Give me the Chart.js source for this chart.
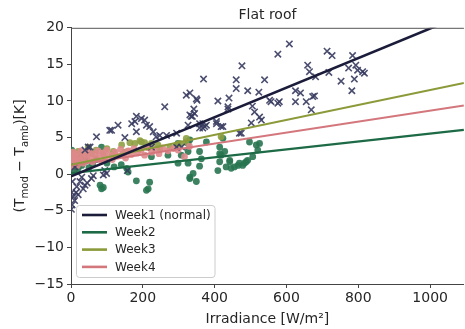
<!DOCTYPE html>
<html><head><meta charset="utf-8">
<script src="https://cdn.jsdelivr.net/npm/chart.js@4.4.0/dist/chart.umd.min.js"></script>
<style>html,body{margin:0;padding:0;background:#fff;overflow:hidden;width:465px;height:329px}canvas{display:block}</style>
</head><body>
<canvas id="c" width="470" height="329"></canvas>
<script>
const titleText = "Flat roof";
const xTitle = "Irradiance [W/m\u00b2]";
const seriesNames = ["Week1 (normal)", "Week2", "Week3", "Week4"];
const yTicks = [20, 15, 10, 5, 0, -5, -10, -15];
const xTicks = [0, 200, 400, 600, 800, 1000];

// fitted lines: value at x=fitX[0] and x=fitX[1]
const fitX = [0, 1094];
const week1Fit = [-0.3, 21.8];
const week2Fit = [0.15, 6.06];
const week3Fit = [1.3, 12.46];
const week4Fit = [1.2, 9.4];

const week1Pts = [[1,-4.8],[3,-4.2],[6,-3.1],[10,-3.6],[14,-2.5],[2,-2.5],[4,-1.0],[16,-1.7],[20,-2.8],[25,-1.0],[30,-0.4],[34,-2.0],[39,-1.5],[45,-1.2],[57,-0.6],[62,-0.2],[11,1.0],[90,-0.1],[94,0.5],[99,0.1],[157,0.5],
[39,3.3],[48,3.7],[53,3.7],[71,5.1],[108,6.0],[113,6.0],[131,6.7],[150,5.0],[169,6.9],[178,7.2],[182,5.8],[182,7.9],[196,7.6],[205,7.4],[210,6.7],[219,6.5],[224,3.7],[229,5.8],[237,5.1],[247,5.3],[261,9.2],[266,5.3],[294,5.6],[294,3.7],[308,3.7],[326,6.7],
[321,10.8],[331,11.1],[331,8.1],[335,7.9],[338,7.9],[342,8.9],[344,8.3],[349,10.3],[351,10.1],[358,6.9],[358,6.3],[367,6.3],[367,6.9],[369,13.0],[372,6.5],[377,6.7],[405,6.9],[405,7.2],[409,10.0],[418,6.5],[423,6.5],[437,8.9],[437,9.2],[440,10.4],[460,12.9],[460,11.7],[469,5.6],[474,5.6],[476,14.8],[492,11.4],[502,7.0],[505,9.3],[511,8.5],[523,11.2],[525,7.8],[530,7.4],[539,12.9],[553,10.1],[557,9.9],[576,16.4],[576,9.7],[580,9.9],[608,17.8],
[625,11.4],[625,9.9],[639,11.1],[655,9.9],[659,14.9],[664,14.0],[669,8.8],[673,10.6],[678,10.7],[681,13.3],[713,16.8],[718,13.9],[727,16.2],[752,12.7],[773,14.5],[782,11.4],[784,16.2],[789,13.0],[793,14.9],[798,14.2],[812,14.0],[817,13.8]];

const week2Pts = [[2,3.3],[4,2.0],[6,1.0],[8,0.3],[10,2.5],[15,1.5],[20,0.8],[25,2.2],[30,1.2],[40,1.8],[50,0.9],[60,1.4],[70,2.0],[85,3.7],[81,-1.5],[85,-2.0],[90,-1.8],[100,1.5],[120,1.0],[140,1.3],[155,0.8],[159,0.3],[182,-0.9],[210,-2.2],[215,-2.0],[219,-1.1],[224,2.4],[270,2.6],[298,4.2],[298,1.5],[307,2.6],[326,4.2],[326,3.1],[326,1.5],[331,4.7],[331,-0.4],[331,-0.6],[340,0.1],[349,-1.0],[358,3.1],[358,1.1],[363,2.1],[377,4.4],[409,0.5],[414,3.7],[414,2.8],[414,1.7],[418,2.6],[423,4.9],[428,3.1],[432,1.0],[442,1.7],[446,0.8],[442,1.9],[455,1.0],[465,1.2],[469,1.5],[478,1.2],[483,1.5],[488,1.7],[492,1.9],[497,4.4],[506,2.4],[516,4.0],[520,3.3],[525,4.2]];

const week3Pts = [[2,3.0],[5,1.5],[10,2.8],[20,3.1],[30,2.6],[39,2.6],[48,3.7],[57,2.8],[70,3.3],[90,2.8],[100,3.5],[115,2.6],[118,3.1],[141,4.0],[150,3.0],[164,4.3],[178,4.2],[192,4.6],[196,4.4],[205,4.3],[210,3.7],[224,4.2],[242,4.0],[247,3.5],[275,3.7],[294,4.0],[303,4.2],[320,4.4],[321,4.9],[418,5.1]];

const week4Pts = [[0,1.0],[2,2.5],[4,1.8],[6,3.0],[8,2.2],[10,1.5],[12,2.8],[15,2.0],[18,1.2],[20,2.5],[25,1.8],[28,3.2],[32,2.3],[35,1.5],[40,2.7],[45,2.0],[50,3.0],[55,2.4],[60,1.7],[65,2.8],[70,2.2],[75,3.2],[80,2.5],[85,1.8],[90,2.9],[95,2.3],[100,3.3],[108,2.6],[115,2.0],[122,3.0],[130,2.5],[138,3.4],[145,2.8],[152,2.2],[158,3.1],[160,3.2],[168,2.7],[175,3.5],[185,2.9],[195,3.3],[205,2.6],[215,3.6],[225,3.0],[235,3.4],[245,2.8],[255,3.6],[270,3.2],[285,3.5],[298,3.3],[316,2.4],[330,3.8]];

const lineColors = ["#1b1c3a", "#1d6a46", "#8c9a3a", "#d3777d"];
const pointColors = ["rgba(55,59,95,0.9)", "rgba(40,118,80,0.9)", "rgba(142,160,66,0.9)", "rgba(222,136,138,0.9)"];

const toXY = a => a.map(p => ({x: p[0], y: p[1]}));
const fitData = f => [{x: fitX[0], y: f[0]}, {x: fitX[1], y: f[1]}];
const FONT = "'DejaVu Sans', sans-serif";

const datasets = [
  {label: seriesNames[0], data: fitData(week1Fit), showLine: true, borderColor: lineColors[0], borderWidth: 2.6, pointRadius: 0, order: 0, isFit: true},
  {label: seriesNames[1], data: fitData(week2Fit), showLine: true, borderColor: lineColors[1], borderWidth: 2.2, pointRadius: 0, order: 0, isFit: true},
  {label: seriesNames[2], data: fitData(week3Fit), showLine: true, borderColor: lineColors[2], borderWidth: 2.0, pointRadius: 0, order: 0, isFit: true},
  {label: seriesNames[3], data: fitData(week4Fit), showLine: true, borderColor: lineColors[3], borderWidth: 2.0, pointRadius: 0, order: 0, isFit: true},
  {label: seriesNames[0] + " pts", data: toXY(week1Pts), pointStyle: 'crossRot', pointRadius: 4.5, borderWidth: 1.6, borderColor: pointColors[0], backgroundColor: pointColors[0], order: 1},
  {label: seriesNames[3] + " pts", data: toXY(week4Pts), pointStyle: 'circle', pointRadius: 3.4, borderWidth: 0, backgroundColor: pointColors[3], borderColor: pointColors[3], order: 2},
  {label: seriesNames[2] + " pts", data: toXY(week3Pts), pointStyle: 'circle', pointRadius: 3.4, borderWidth: 0, backgroundColor: pointColors[2], borderColor: pointColors[2], order: 3},
  {label: seriesNames[1] + " pts", data: toXY(week2Pts), pointStyle: 'circle', pointRadius: 3.4, borderWidth: 0, backgroundColor: pointColors[1], borderColor: pointColors[1], order: 4}
];

const framePlugin = {
  id: 'frame',
  afterDatasetsDraw(chart) {
    const {ctx, chartArea: a} = chart;
    ctx.save();
    // top spine
    ctx.strokeStyle = '#555';
    ctx.lineWidth = 1;
    ctx.beginPath();
    ctx.moveTo(a.left, a.top + 0.5);
    ctx.lineTo(a.right, a.top + 0.5);
    ctx.stroke();
    // legend
    const bx = 76.5, by = 205.5, bw = 138.5, bh = 72;
    ctx.fillStyle = 'rgba(255,255,255,0.85)';
    ctx.strokeStyle = '#cccccc';
    ctx.beginPath();
    if (ctx.roundRect) ctx.roundRect(bx, by, bw, bh, 3); else ctx.rect(bx, by, bw, bh);
    ctx.fill();
    ctx.stroke();
    const fits = chart.data.datasets.filter(d => d.isFit);
    ctx.font = "12px " + FONT;
    ctx.textBaseline = 'middle';
    ctx.textAlign = 'left';
    fits.forEach((d, i) => {
      const yy = 215 + i * 17.3;
      ctx.strokeStyle = d.borderColor;
      ctx.lineWidth = 2.6;
      ctx.beginPath();
      ctx.moveTo(82, yy);
      ctx.lineTo(107, yy);
      ctx.stroke();
      ctx.fillStyle = '#262626';
      ctx.fillText(d.label, 115, yy + 0.5);
    });
    ctx.restore();
  },
  afterDraw(chart) {
    // y-axis title with subscripts
    const {ctx, chartArea: a} = chart;
    const parts = [["(T", 14, 0], ["mod", 10, 3.5], [" \u2212 T", 14, 0], ["amb", 10, 3.5], [")[K]", 14, 0]];
    ctx.save();
    let total = 0;
    parts.forEach(p => { ctx.font = p[1] + "px " + FONT; total += ctx.measureText(p[0]).width; });
    ctx.translate(24, (a.top + a.bottom) / 2);
    ctx.rotate(-Math.PI / 2);
    ctx.fillStyle = '#262626';
    ctx.textBaseline = 'alphabetic';
    ctx.textAlign = 'left';
    let x = -total / 2;
    parts.forEach(p => {
      ctx.font = p[1] + "px " + FONT;
      ctx.fillText(p[0], x, p[2]);
      x += ctx.measureText(p[0]).width;
    });
    ctx.restore();
  }
};

new Chart(document.getElementById('c'), {
  type: 'scatter',
  data: {datasets},
  plugins: [framePlugin],
  options: {
    responsive: false,
    animation: false,
    devicePixelRatio: 1,
    layout: {padding: {left: 0, right: 0, top: 0, bottom: 0}},
    plugins: {
      legend: {display: false},
      tooltip: {enabled: false},
      title: {display: true, text: titleText, fullSize: false, color: '#262626',
              font: {family: FONT, size: 14, weight: 'normal'}, padding: {top: 7, bottom: 4}}
    },
    scales: {
      x: {
        type: 'linear', min: 0, max: fitX[1],
        afterFit: s => { s.height = 45; },
        afterBuildTicks: s => { s.ticks = xTicks.map(v => ({value: v})); },
        ticks: {color: '#262626', font: {family: FONT, size: 14}, padding: 2, maxRotation: 0,
                callback: v => String(v)},
        grid: {display: true, drawOnChartArea: false, tickLength: 4, color: '#444', tickColor: '#444'},
        border: {display: true, color: '#444', width: 1},
        title: {display: true, text: xTitle, color: '#262626', font: {family: FONT, size: 14}, padding: {top: 0, bottom: 1}}
      },
      y: {
        type: 'linear', min: -15, max: 20,
        afterFit: s => { s.width = 71; },
        afterBuildTicks: s => { s.ticks = yTicks.map(v => ({value: v})); },
        ticks: {color: '#262626', font: {family: FONT, size: 14}, padding: 3,
                callback: v => String(v).replace('-', '\u2212')},
        grid: {display: true, drawOnChartArea: false, tickLength: 4, color: '#444', tickColor: '#444'},
        border: {display: true, color: '#444', width: 1}
      }
    }
  }
});
</script>
</body></html>
